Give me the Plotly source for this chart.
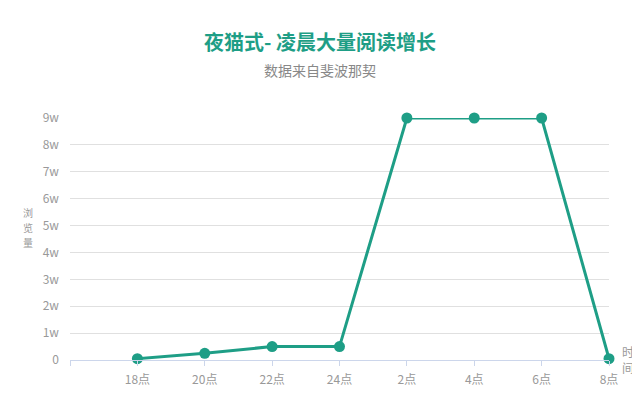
import plotly.graph_objects as go

# 时间轴类别（首位为空）
categories = ['', '18点', '20点', '22点', '24点', '2点', '4点', '6点', '8点']
views = [500, 2500, 5000, 5000, 90000, 90000, 90000, 500]
y_ticks = [0, 10000, 20000, 30000, 40000, 50000, 60000, 70000, 80000, 90000]
y_tick_labels = ['0', '1w', '2w', '3w', '4w', '5w', '6w', '7w', '8w', '9w']
y_title_chars = ['浏', '览', '量']

TEAL = '#1e9e86'
FONT = 'Noto Sans CJK SC'

x_pos = list(range(1, len(categories)))

fig = go.Figure()
fig.add_trace(go.Scatter(
    x=x_pos,
    y=views,
    mode='lines+markers',
    line=dict(color=TEAL, width=3),
    marker=dict(color=TEAL, size=11),
    cliponaxis=False,
    showlegend=False,
))

# the page body adds an 8px offset, margins are shifted to compensate
fig.update_layout(
    width=640,
    height=400,
    margin=dict(l=62, r=39, t=110, b=48),
    plot_bgcolor='white',
    paper_bgcolor='white',
    font=dict(family=FONT, size=12, color='#999999'),
    title=dict(
        text='<b>夜猫式- 凌晨大量阅读增长</b>',
        x=0.4875, xanchor='center', y=0.912, yanchor='middle',
        font=dict(family=FONT, size=20, color=TEAL),
    ),
)

fig.update_xaxes(
    range=[0, len(categories) - 1],
    tickmode='array',
    tickvals=list(range(len(categories))),
    ticktext=categories,
    showgrid=False,
    zeroline=False,
    showline=True,
    linecolor='#ccd6eb',
    linewidth=1,
    ticks='outside',
    ticklen=5,
    tickcolor='#ccd6eb',
    ticklabelstandoff=4,
    tickfont=dict(size=12, color='#999999'),
)
fig.update_yaxes(
    range=[0, 90000],
    tickmode='array',
    tickvals=y_ticks,
    ticktext=y_tick_labels,
    showgrid=True,
    gridcolor='#e0e0e0',
    zeroline=False,
    showline=False,
    ticklabelstandoff=10,
    tickfont=dict(size=12, color='#999999'),
)

fig.add_annotation(
    text='数据来自斐波那契', xref='paper', yref='paper',
    x=0.4638, y=1.0, xanchor='center', yanchor='middle', yshift=48,
    showarrow=False, font=dict(family=FONT, size=14, color='#888888'),
)
# vertical axis title, one upright character per line
for i, ch in enumerate(y_title_chars):
    fig.add_annotation(
        text=ch, xref='paper', yref='paper',
        x=0, y=0.5, xanchor='center', yanchor='middle',
        xshift=-42, yshift=27 - i * 15,
        borderpad=0,
        showarrow=False, font=dict(family=FONT, size=10, color='#999999'),
    )
fig.add_annotation(
    text='时<br>间', xref='paper', yref='paper',
    x=1, y=0, xanchor='left', yanchor='middle', xshift=11, yshift=1,
    showarrow=False, font=dict(family=FONT, size=12, color='#999999'),
)

fig.write_html('out.html')
